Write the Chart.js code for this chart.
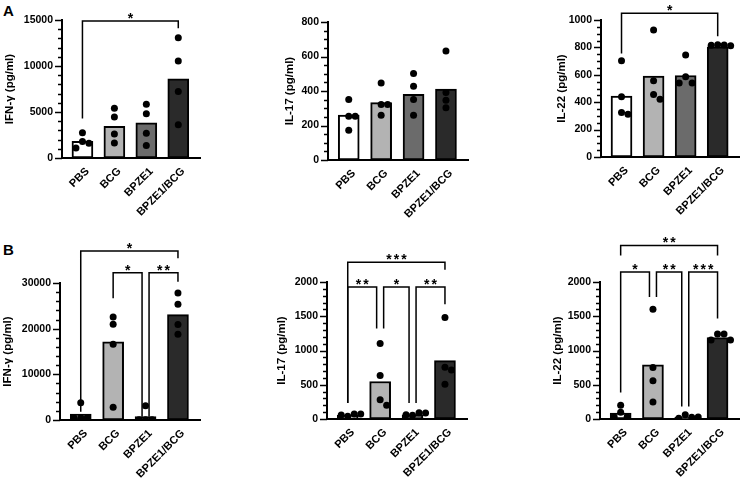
<!DOCTYPE html>
<html>
<head>
<meta charset="utf-8">
<script src="https://cdn.jsdelivr.net/npm/chart.js@4.4.1/dist/chart.umd.min.js"></script>
<style>
  html, body { margin: 0; padding: 0; background: #ffffff; }
  body { width: 743px; height: 479px; position: relative; overflow: hidden; font-family: "Liberation Sans", Arial, sans-serif; }
  canvas { position: absolute; }
  .plabel { position: absolute; font-weight: bold; font-size: 15px; color: #000; line-height: 1; }
</style>
</head>
<body>
<div class="plabel" style="left:3px; top:3px;">A</div>
<div class="plabel" style="left:3px; top:242px;">B</div>
<canvas id="a1"></canvas>
<canvas id="a2"></canvas>
<canvas id="a3"></canvas>
<canvas id="b1"></canvas>
<canvas id="b2"></canvas>
<canvas id="b3"></canvas>
<script>
// ---------------- DATA ----------------
const categories = ['PBS', 'BCG', 'BPZE1', 'BPZE1/BCG'];

// Panel A – individual values per group and bar heights
const ifngA_points = [[2750, 1800, 1600, 1100], [5420, 4450, 2600, 1630], [5850, 4800, 2700, 1370], [13080, 10550, 7230, 3610]];
const ifngA_bars = [1810, 3430, 3830, 8600];
const il17A_points = [[351, 254, 254, 173], [447, 322, 322, 260], [501, 428, 351, 260], [632, 391, 347, 303]];
const il17A_bars = [260, 333, 380, 411];
const il22A_points = [[702, 439, 324, 312], [927, 556, 456, 422], [744, 585, 541, 541], [820, 818, 815, 812]];
const il22A_bars = [444, 590, 595, 805];

// Panel B
const ifngB_points = [[3790, 510, 480, 450], [22570, 20970, 16600, 2770], [3130, 60, 40, 30], [27810, 25330, 20890, 18780]];
const ifngB_bars = [1310, 17100, 730, 23080];
const il17B_points = [[40, 73, 58, 73], [1104, 634, 281, 199], [53, 92, 63, 87], [1482, 755, 717, 509]];
const il17B_bars = [55, 547, 60, 852];
const il22B_points = [[199, 97, 29, 29], [1603, 751, 557, 247], [63, 24, 10, 29], [1240, 1240, 1153, 1153]];
const il22B_bars = [87, 789, 24, 1187];

// y-axis tick settings [max, major step, minor step]
const ifngA_ticks = [15000, 5000, 1000];
const il17A_ticks = [800, 200, 50];
const il22A_ticks = [1000, 200, 50];
const ifngB_ticks = [30000, 10000, 2000];
const il17B_ticks = [2000, 500, 100];
const il22B_ticks = [2000, 500, 100];

// significance comparisons: [from, to, label, bracket level value, left leg end value, right leg end value]
const ifngA_sig = [[0, 3, '*', 14890, 4300, 14100]];
const il17A_sig = [];
const il22A_sig = [[0, 3, '*', 1049, 756, 882]];
const ifngB_sig = [[0, 3, '*', 37000, 1820, 35400], [1, 2, '*', 32260, 26650, 720], [2, 3, '**', 32260, 720, 30290]];
const il17B_sig = [[0, 3, '***', 2290, 232, 2180], [0, 1, '**', 1927, 232, 1322], [1, 2, '*', 1927, 1322, 232], [2, 3, '**', 1927, 232, 1675]];
const il22B_sig = [[0, 3, '**', 2533, 2387, 2387], [0, 1, '*', 2145, 387, 1781], [1, 2, '**', 2145, 1781, 183], [2, 3, '***', 2145, 183, 1468]];

// ---------------- STYLE / LAYOUT ----------------
const FONT = "'Liberation Sans', Arial, sans-serif";
const barColors = ['#ffffff', '#b3b3b3', '#6b6b6b', '#2a2a2a'];
const X_MIN = -0.64, X_MAX = 3.68;
const DOT_R = 3.5;

// beeswarm-like horizontal spreading of overlapping dots
function swarm(groups, pxPerVal, pxPerX) {
  const out = [];
  const STEP = 6.5, MIN = 6.5;
  groups.forEach((vals, i) => {
    const placed = [];
    vals.forEach(v => {
      const py = v * pxPerVal;
      let chosen = 0;
      for (const k of [0, 1, -1, 2, -2, 3, -3]) {
        const dx = k * STEP;
        if (placed.every(p => Math.hypot(p.dx - dx, p.py - py) >= MIN)) { chosen = dx; break; }
      }
      placed.push({ dx: chosen, py });
      out.push({ x: i + chosen / pxPerX, y: v });
    });
  });
  return out;
}

function makeAxisPlugin(tickSpec, sig) {
  return {
    id: 'gpAxis',
    afterDraw(chart) {
      const ctx = chart.ctx;
      const ys = chart.scales.y, xs = chart.scales.x;
      const max = tickSpec[0], major = tickSpec[1], minor = tickSpec[2];
      const ax = chart.chartArea.left;
      ctx.save();
      ctx.strokeStyle = '#000';
      ctx.lineWidth = 1.5;
      const n = Math.round(max / minor);
      for (let k = 0; k <= n; k++) {
        const v = k * minor;
        const isMajor = Math.abs(v / major - Math.round(v / major)) < 1e-6;
        const y = Math.round(ys.getPixelForValue(v)) + 0.5;
        ctx.beginPath();
        ctx.moveTo(ax - (isMajor ? 7 : 4), y);
        ctx.lineTo(ax, y);
        ctx.stroke();
      }
      // brackets
      ctx.lineWidth = 1.5;
      sig.forEach(s => {
        const a = s[0], b = s[1], label = s[2], lv = s[3], la = s[4], lb = s[5];
        let shiftL = 0, shiftR = 0;
        sig.forEach(o => {
          if (o === s || o[3] !== lv) return;
          if (o[1] === a) shiftL = 3.5;
          if (o[0] === b) shiftR = -3.5;
        });
        const x1 = xs.getPixelForValue(a) + shiftL;
        const x2 = xs.getPixelForValue(b) + shiftR;
        const y = ys.getPixelForValue(lv);
        ctx.beginPath();
        ctx.moveTo(x1, ys.getPixelForValue(la));
        ctx.lineTo(x1, y);
        ctx.lineTo(x2, y);
        ctx.lineTo(x2, ys.getPixelForValue(lb));
        ctx.stroke();
        ctx.fillStyle = '#000';
        ctx.font = 'bold 14px ' + FONT;
        ctx.textAlign = 'center';
        ctx.textBaseline = 'alphabetic';
        const cnt = label.length, sp = 7.5;
        const cx = (x1 + x2) / 2;
        for (let k = 0; k < cnt; k++) {
          ctx.fillText('*', cx + (k - (cnt - 1) / 2) * sp, y + 2);
        }
      });
      ctx.restore();
    }
  };
}

function makePanel(id, box, title, points, bars, ticks, sig) {
  const cv = document.getElementById(id);
  cv.width = box.w; cv.height = box.h;
  cv.style.left = box.left + 'px'; cv.style.top = box.top + 'px';
  cv.style.width = box.w + 'px'; cv.style.height = box.h + 'px';
  const max = ticks[0], major = ticks[1];
  const pxPerVal = (box.B - box.T) / max;
  const pxPerX = (box.R - box.L) / (X_MAX - X_MIN);
  const barData = bars.map((v, i) => ({ x: i, y: v }));
  const dotData = swarm(points, pxPerVal, pxPerX);
  new Chart(cv, {
    type: 'bar',
    data: {
      datasets: [
        {
          type: 'scatter', data: dotData, order: 0,
          pointRadius: DOT_R, pointHoverRadius: DOT_R,
          pointBackgroundColor: '#000', pointBorderColor: '#000', pointBorderWidth: 0
        },
        {
          type: 'bar', data: barData, order: 1,
          backgroundColor: barColors, borderColor: '#000', borderWidth: 2,
          barThickness: 21, borderSkipped: false
        }
      ]
    },
    options: {
      responsive: false, animation: false,
      layout: { padding: { left: 0, top: box.T - box.top, right: box.left + box.w - box.R, bottom: 0 } },
      plugins: { legend: { display: false }, tooltip: { enabled: false } },
      scales: {
        x: {
          type: 'linear', min: X_MIN, max: X_MAX, offset: false,
          afterBuildTicks: s => { s.ticks = categories.map((c, i) => ({ value: i })); },
          afterFit: s => { s.height = box.top + box.h - box.B; s.paddingLeft = 0; s.paddingRight = 0; },
          grid: { display: false, drawTicks: false, offset: false },
          border: { display: true, color: '#000', width: 2 },
          ticks: {
            autoSkip: false, minRotation: 45, maxRotation: 45, padding: 7, labelOffset: 5,
            color: '#000', font: { family: FONT, size: 11, weight: 'bold' },
            callback: v => categories[Math.round(v)]
          }
        },
        y: {
          min: 0, max: max,
          afterFit: s => { s.width = box.L - box.left; s.paddingTop = 0; s.paddingBottom = 0; },
          grid: { display: false, drawTicks: false },
          border: { display: true, color: '#000', width: 2 },
          ticks: {
            stepSize: major, padding: 9, color: '#000',
            font: { family: FONT, size: 10.5, weight: 'bold' },
            callback: v => String(v)
          },
          title: {
            display: true, text: title, color: '#000', padding: 0,
            font: { family: FONT, size: 11.5, weight: 'bold' }
          }
        }
      }
    },
    plugins: [makeAxisPlugin(ticks, sig)]
  });
}

makePanel('a1', { left: 3, top: 0, w: 245, h: 230, L: 62, R: 200, T: 20, B: 158 }, 'IFN-γ (pg/ml)', ifngA_points, ifngA_bars, ifngA_ticks, ifngA_sig);
makePanel('a2', { left: 283, top: 0, w: 200, h: 230, L: 328, R: 468, T: 22, B: 160 }, 'IL-17 (pg/ml)', il17A_points, il17A_bars, il17A_ticks, il17A_sig);
makePanel('a3', { left: 555, top: 0, w: 188, h: 230, L: 601, R: 740, T: 20, B: 157 }, 'IL-22 (pg/ml)', il22A_points, il22A_bars, il22A_ticks, il22A_sig);
makePanel('b1', { left: 1, top: 232, w: 229, h: 247, L: 60, R: 200, T: 283, B: 420 }, 'IFN-γ (pg/ml)', ifngB_points, ifngB_bars, ifngB_ticks, ifngB_sig);
makePanel('b2', { left: 275, top: 232, w: 210, h: 247, L: 327, R: 467, T: 282, B: 419 }, 'IL-17 (pg/ml)', il17B_points, il17B_bars, il17B_ticks, il17B_sig);
makePanel('b3', { left: 551, top: 232, w: 192, h: 247, L: 600, R: 740, T: 282, B: 419 }, 'IL-22 (pg/ml)', il22B_points, il22B_bars, il22B_ticks, il22B_sig);
</script>
</body>
</html>
